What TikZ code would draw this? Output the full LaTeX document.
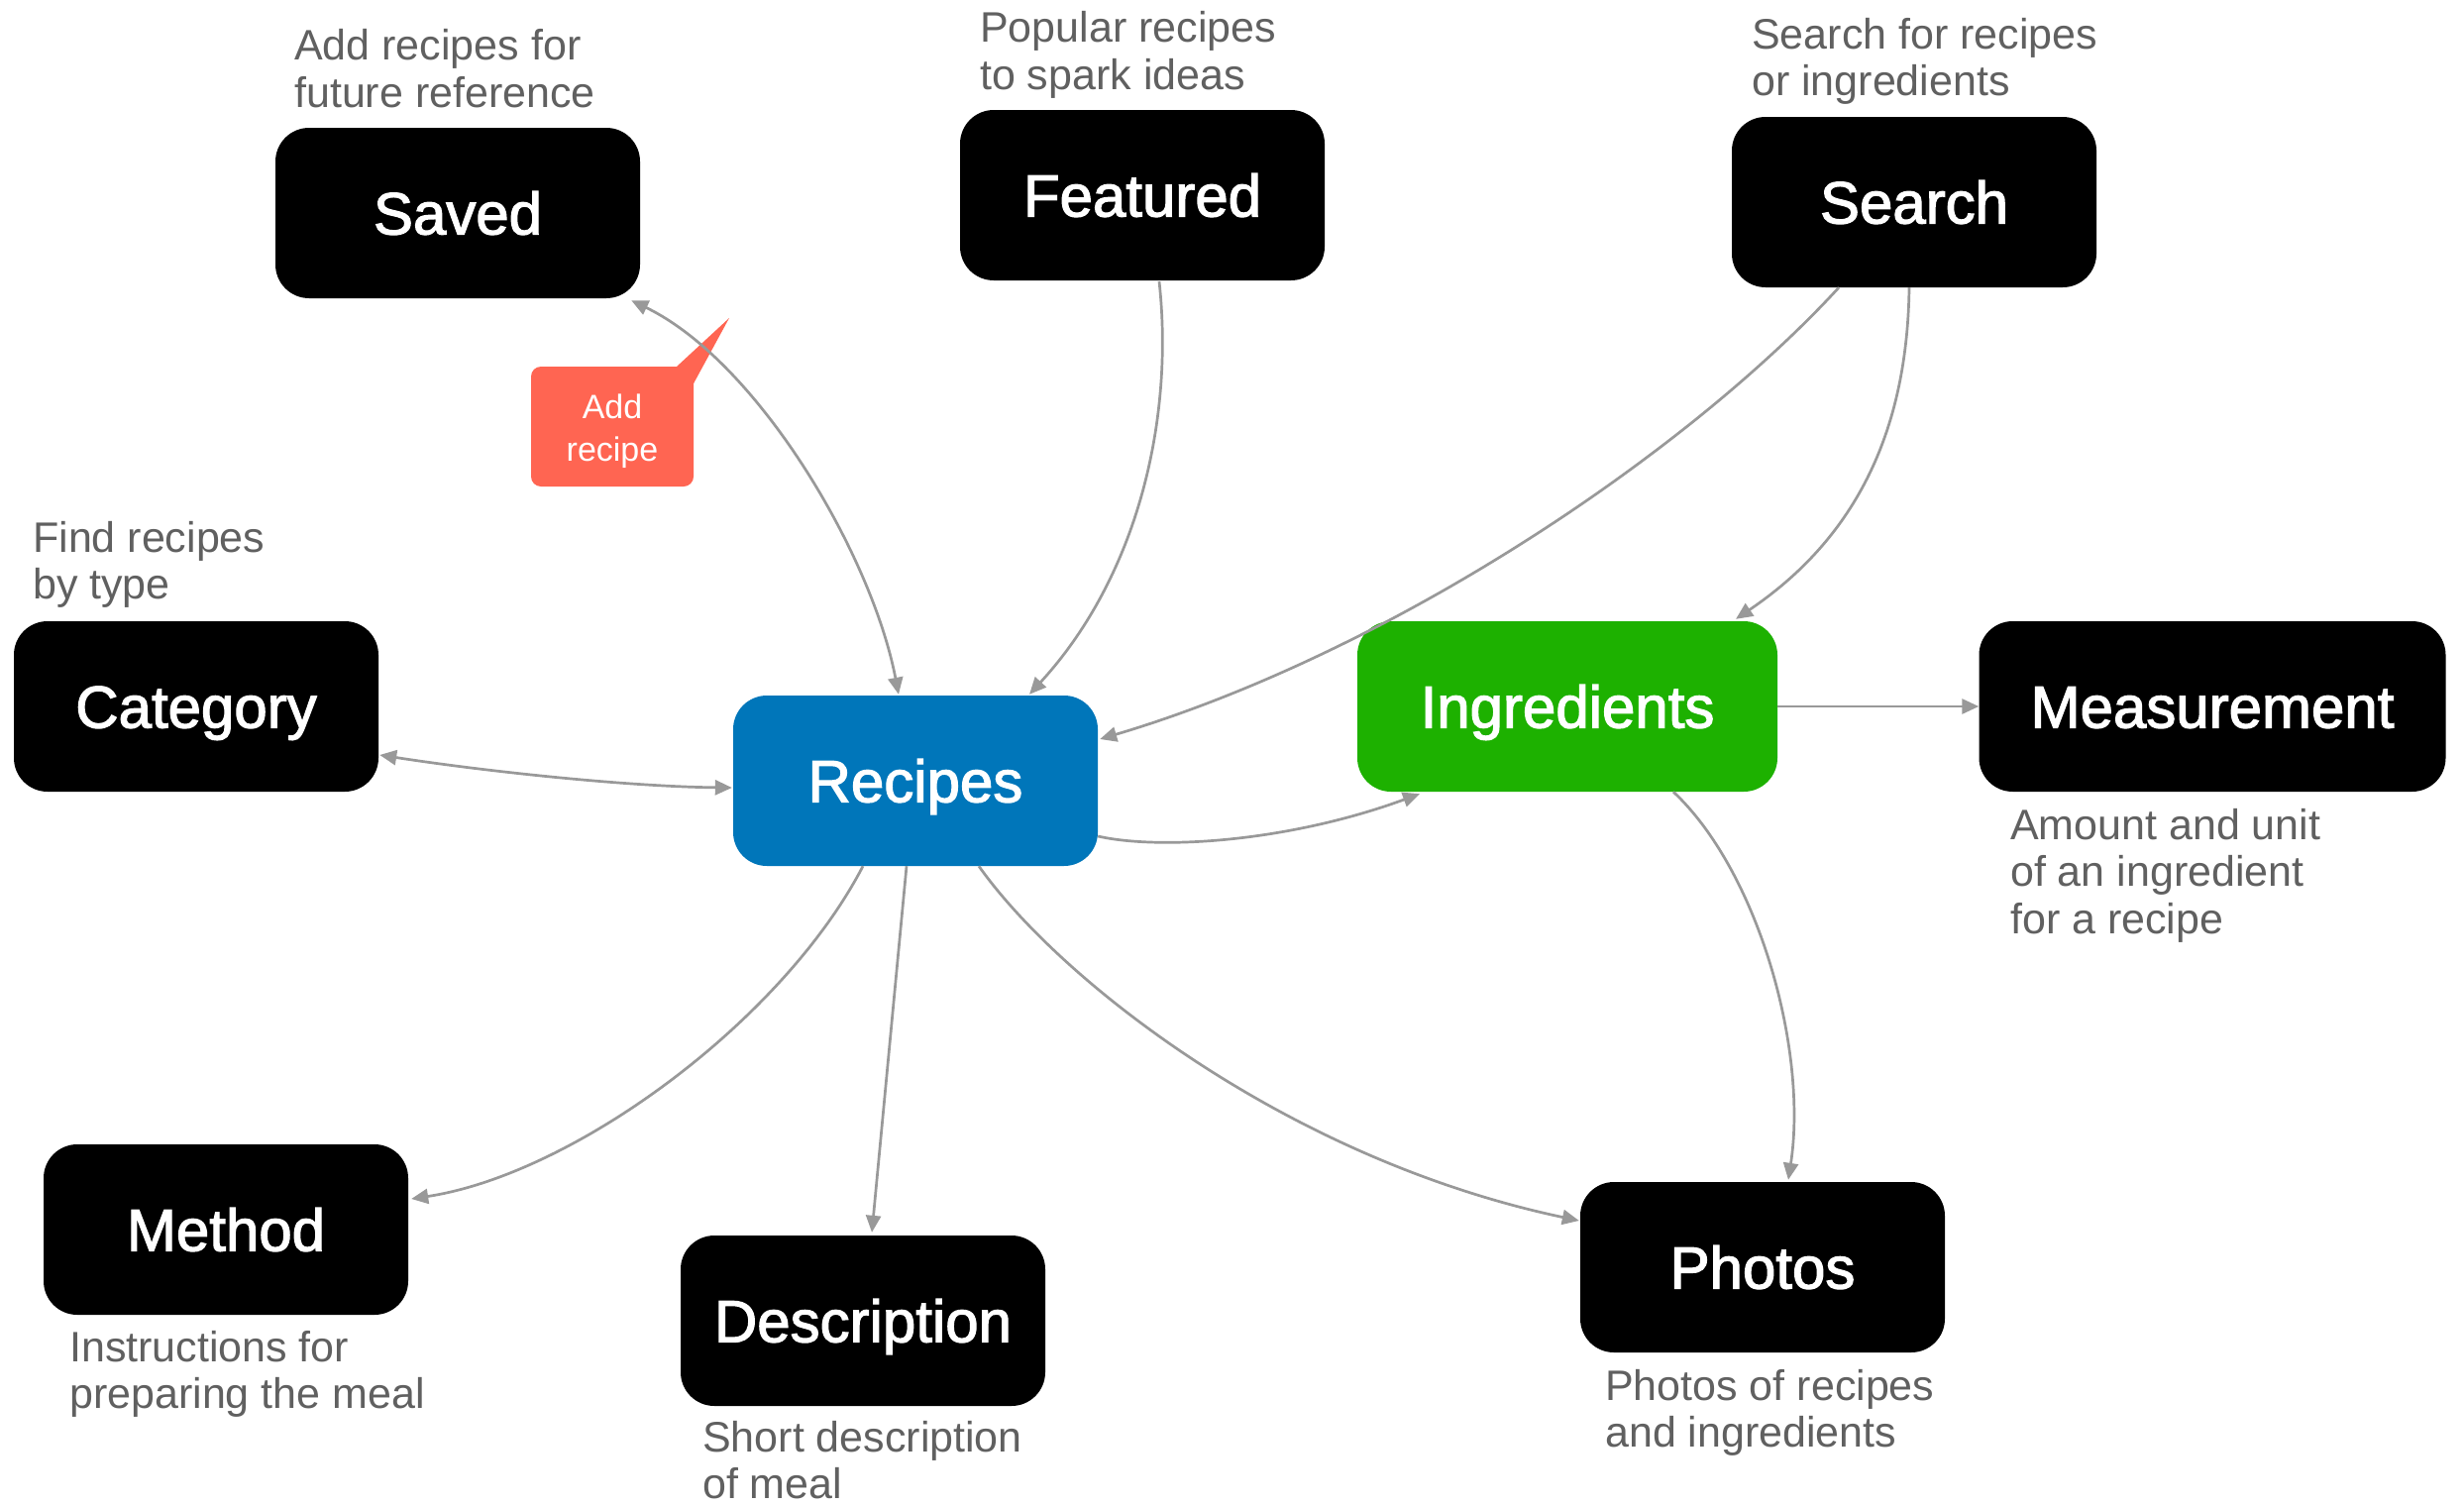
\documentclass[tikz,border=0pt]{standalone}
\usepackage{fontspec}
\setmainfont{Liberation Sans}
\newfontfamily\cardfont[FakeBold=2]{Liberation Sans}
\usetikzlibrary{arrows.meta,calc}

\definecolor{linkgray}{RGB}{153,153,153}
\definecolor{notegray}{RGB}{96,96,96}
\definecolor{recipeblue}{RGB}{0,118,186}
\definecolor{ingrgreen}{RGB}{29,177,0}
\definecolor{calloutred}{RGB}{255,101,82}

\tikzset{
  card/.style={rounded corners=34pt, minimum width=368pt, minimum height=172pt,
    inner sep=0pt, text=white, font=\cardfont\fontsize{60}{72}\selectfont,
    text height=43pt, text depth=0pt},
  darkcard/.style={card, fill=black},
  % notes are anchored at the baseline of their last line
  note/.style={anchor=base west, align=left, inner sep=0pt, text=notegray,
    font=\fontsize{43}{47.5}\selectfont},
  link/.style={draw=linkgray, line width=2.7pt, -{Triangle[length=17pt,width=15pt]}},
  twoway/.style={draw=linkgray, line width=2.7pt,
    {Triangle[length=17pt,width=15pt]}-{Triangle[length=17pt,width=15pt]}},
}

\begin{document}
\begin{tikzpicture}[x=1pt, y=-1pt]
  \fill[white] (0,0) rectangle (2487,1520);
  \useasboundingbox (0,0) rectangle (2487,1520);

  % entity cards
  \node[darkcard] (saved) at (462,215) {Saved};
  \node[darkcard] (featured) at (1153,197) {Featured};
  \node[darkcard] (search) at (1932,204) {Search};
  \node[darkcard] (category) at (198,713) {Category};
  \node[card, fill=recipeblue] (recipes) at (924,788) {Recipes};
  \node[card, fill=ingrgreen, minimum width=424pt] (ingredients) at (1582,713) {Ingredients};
  \node[darkcard, minimum width=471pt] (measurement) at (2233,713) {Measurement};
  \node[darkcard] (method) at (228,1241) {Method};
  \node[darkcard] (description) at (871,1333) {Description};
  \node[darkcard] (photos) at (1779,1279) {Photos};

  % short explanations
  \node[note] (savednote) at (297,108.5) {Add recipes for\\future reference};
  \node[note] (featurednote) at (989,90.5) {Popular recipes\\to spark ideas};
  \node[note] (searchnote) at (1768,96.5) {Search for recipes\\or ingredients};
  \node[note] (categorynote) at (33,604.5) {Find recipes\\by type};
  \node[note] (measurementnote) at (2029,942) {Amount and unit\\of an ingredient\\for a recipe};
  \node[note] (methodnote) at (70,1421.5) {Instructions for\\preparing the meal};
  \node[note] (descriptionnote) at (709,1512.5) {Short description\\of meal};
  \node[note] (photosnote) at (1620,1460.5) {Photos of recipes\\and ingredients};

  % callout bubble
  \node[fill=calloutred, rounded corners=10pt, minimum width=164pt, minimum height=121pt,
    inner sep=0pt] (callout) at (618,430.5) {};
  \coordinate (callouttip) at (736,321);
  \fill[calloutred] ($(callout.north east)+(-17,0)$) -- (callouttip)
    -- ($(callout.north east)+(0,17)$) -- cycle;
  \node[inner sep=0pt, text=white, align=center, font=\fontsize{34}{43}\selectfont]
    (calloutlabel) at ($(callout.center)+(0,5)$) {Add\\recipe};

  % connectors
  \draw[twoway] ($(saved.south east)+(-9,2)$) .. controls (765,365) and (880,560)
    .. ($(recipes.north)+(-17,-1)$);
  \draw[link] ($(featured.south)+(17,1)$) .. controls (1185,420) and (1150,580)
    .. ($(recipes.north)+(115,-1)$);
  \draw[link] ($(search.south)+(-76,0)$) .. controls (1700,460) and (1400,660)
    .. ($(recipes.east)+(2,-42)$);
  \draw[link] ($(search.south)+(-5,0)$) .. controls (1925,440) and (1870,545)
    .. ($(ingredients.north)+(170,-2)$);
  \draw[link] ($(recipes.east)+(0,56)$) .. controls (1170,858) and (1300,850)
    .. ($(ingredients.south)+(-149,2)$);
  \draw[link] (ingredients) -- (measurement);
  \draw[twoway] ($(category.east)+(1,49)$) .. controls (500,780) and (640,794)
    .. ($(recipes.west)+(-1,7)$);
  \draw[link] ($(recipes.south)+(-53,0)$) .. controls (790,1030) and (580,1185)
    .. ($(method.east)+(3,-31)$);
  \draw[link] ($(recipes.south)+(-9,0)$) -- ($(description.north)+(9,-3)$);
  \draw[link] ($(recipes.south)+(64,0)$) .. controls (1070,990) and (1300,1170)
    .. ($(photos.west)+(-1,-47)$);
  \draw[link] ($(ingredients.south)+(107,0)$) .. controls (1775,880) and (1825,1060)
    .. ($(photos.north)+(26,-2)$);
\end{tikzpicture}
\end{document}
